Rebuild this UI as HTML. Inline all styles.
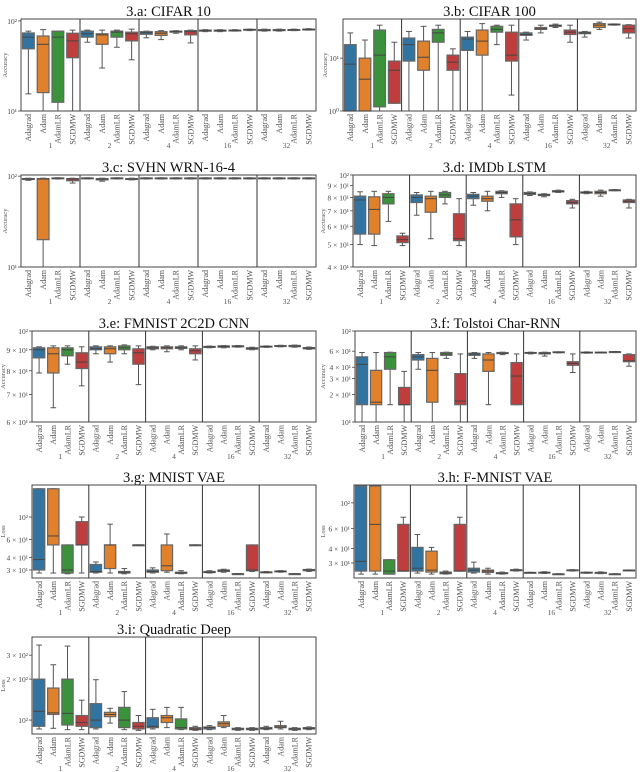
<!DOCTYPE html>
<html><head><meta charset="utf-8"><style>
html,body{margin:0;padding:0;background:#fff;}
svg{display:block;font-family:"Liberation Serif","DejaVu Serif",serif;}
</style></head><body>
<svg id="fig" width="640" height="772" viewBox="0 0 640 772" xmlns="http://www.w3.org/2000/svg"></svg>
<script>
const optimizers = ['Adagrad','Adam','AdamLR','SGDMW'];
const groups = ['1','2','4','16','32'];
const colors = ['#3274a1','#e1812c','#3a923a','#c03d3e'];

// five-number summaries [low, q1, median, q3, high], group-major, optimizer-minor
const boxesA = [[15.5,49,66,73.5,77],[10,16,55,68,80],[10,12.5,66,77,77],[10,39,60,73,79],
 [58,66,72,77,79],[30,55,70,72,79],[51,66,75,77,79],[37,60,72,75,81],
 [65,71,74,76,77],[62,69,73,76,78],[73,75,76,77,78],[57,70,76,78,79],
 [76,77,78,79,80],[76,77,78,79,80],[77,78,78.5,79,80],[78,79,80,80.5,81],
 [77,78,79,80,81],[77,78,79,80,81],[78,79,79.5,80,81],[79,80,80.5,81,82]];
const boxesB = [[1,1,7.7,18,30],[1,1,4,10,22],[1,1.2,11.4,34,42],[1.4,1.4,5.9,8.8,20],
 [1,8.8,18,24,32],[1,5.9,10.4,21,40],[1,20,30,35,42],[1,5.9,8.4,11.4,15],
 [1,14,23,25,32],[1,11.4,21,34,45],[18,31,35,40,42],[2,8.8,11.4,31,42],
 [22,27,28,30,31],[30,35,36,38,42],[38,40,41,42,44],[20,28,31,34,42],
 [25,29,30,31,32],[35,38,42,45,48],[42,43,43.5,44,44.5],[24,30,36,42,43]];
const boxesC = [[90,92,93,94,95],[10,20,93,94,95],[93,94,95,95.5,96],[84,89,93,94,95],
 [93,94,95,95.5,96],[88,91,93,94,95],[93,94,95,95.5,96],[91,92,93,94,95],
 [93,94,95,95.5,96],[93,94,95,95.5,96],[93,94,95,95.5,96],[93,94,95,95.5,96],
 [93,94,95,95.5,96],[93,94,95,95.5,96],[93,94,95,95.5,96],[93,94,95,95.5,96],
 [93,94,95,95.5,96],[93,94,95,95.5,96],[93,94,95,95.5,96],[93,94,95,95.5,96]];
const boxesD = [[50,55.5,78,81,84.6],[49.5,55.5,71,80.5,85],[63,75,80,83,85],[49.5,51,52.5,54.5,56],
 [67,76,80,82,84],[53,69,79,81,85],[75,80,82,84,85],[49.5,52,53,68,79],
 [74,79,81,82.5,84],[70,77,79,81,85],[80,83,84,85,85.5],[50,54,64,75,79],
 [81.5,82.5,83,84,84.5],[80.5,81.5,82,82.5,83],[84,84.5,85,85.5,86],[72,75,76,77.5,78.5],
 [83,83.5,84,84.5,85],[81,83,84,85,86],[85.5,85.7,86,86.2,86.5],[72,76,77,78,78.5]];
const boxesE = [[79,86,90,91,91.5],[65,79,88,91,92],[83,87,90,91,92],[73.5,81,84,88.5,91.5],
 [88,90,90.5,91.5,92],[84,88,90.5,91.5,92],[88,90,91,92,92.5],[74,83,88.5,90.5,92],
 [90,90.5,91,91.5,91.8],[89,90.5,91,91.5,92],[90,90.7,91,91.5,92],[85,88,89.5,90.5,92],
 [91,91.2,91.5,91.7,91.9],[91,91.3,91.6,92,92.2],[91.3,91.5,91.8,92,92.2],[90,90.3,90.7,91,91.3],
 [91.2,91.4,91.6,91.8,92],[91.5,91.7,91.9,92.1,92.3],[91.3,91.6,91.9,92.2,92.4],[90.2,90.5,90.8,91.1,91.4]];
const boxesF = [[10,15.5,43,52,58],[10,15.5,16.5,37,58],[15.5,38,52,58,58.5],[10,15.5,15.5,24,36],
 [38,48,52,55,58],[10,16.5,37,50,58],[50,54,56,58,58.5],[10,15.5,17,34,56],
 [50,54,56,57,58],[15.5,36,48,56,58],[55,56.5,57,58,58.5],[15.5,15.5,32,45,56],
 [56,57,57.5,58,58.5],[53,56,57,58,58.5],[57.5,58,58.5,59,59],[35,42,44,46,56],
 [57,57.5,58,58.5,59],[57.5,58,58.2,58.5,58.7],[58,58.5,59,59.2,59.5],[41,46,47,55,56]];
const boxesG = [[28,30,38,190,190],[28,53,65,190,190],[27.5,28,30,53,53],[28,53,53,90,100],
 [28,28.5,29,34,36],[28,31,53,53,85],[27.5,28,28.5,29,31],[53,53,53,53,53],
 [28,28.5,29,30,31.5],[28.5,29.5,33,53,68],[27.5,27.8,28,28.5,29.5],[53,53,53,53,53],
 [28,28.3,28.5,29,29.5],[28.5,29,29.5,30,30.5],[27.5,27.5,27.5,27.5,27.5],[29,29.5,30,53,53],
 [28,28.3,28.5,28.7,29],[28.5,28.8,29,29.3,29.6],[27.5,27.5,27.5,27.5,27.5],[29,29.5,30,30.3,30.6]];
const boxesH = [[24,25.5,31,140,140],[24,25.5,65,140,140],[24,24,25.5,32,32],[25.5,25.5,25.5,65,75],
 [24.5,25.5,27,41,53],[24,25,26,38,41],[24,24.2,24.5,25,25.5],[25.5,25.5,25.5,65,75],
 [24.5,25,26,27,30.5],[24,24.8,25.5,26,27],[24,24.2,24.4,24.7,25],[25.5,25.7,26,26.2,26.5],
 [24.5,24.6,24.7,24.8,24.9],[24.3,24.5,24.7,24.9,25.2],[23.8,23.9,24,24.1,24.2],[25.5,25.7,26,26.1,26.2],
 [24.4,24.5,24.7,24.9,25],[24.2,24.4,24.6,24.8,25.1],[23.8,23.9,24,24.1,24.2],[25.6,25.7,25.9,26,26.1]];
const boxesI = [[86,90,116,200,356],[87,110,113,172,255],[85,92,112,200,350],[85,90,96,108,140],
 [86,88,100,132,198],[95,106,110,114,122],[85,88,100,124,162],[84,86,90,96,108],
 [86,88,90,104,120],[88,96,104,108,124],[85,86,88,102,124],[84,85,86,88,90],
 [85,86,88,89,91],[88,90,94,97,108],[84,85,86,87,88],[84,85,86,87,88],
 [85,86,87,88,90],[86,88,89,91,98],[84,85,86,87,88],[85,86,87,88,89]];

const ticksA = [10,100], tickLabelsA = ['10¹','10²'];
const ticksB = [1,10], tickLabelsB = ['10⁰','10¹'];
const ticksC = [10,100], tickLabelsC = ['10¹','10²'];
const ticksD = [40,50,60,70,80,90,100], tickLabelsD = ['4 × 10¹','5 × 10¹','6 × 10¹','7 × 10¹','8 × 10¹','9 × 10¹','10²'];
const ticksE = [60,70,80,90,100], tickLabelsE = ['6 × 10¹','7 × 10¹','8 × 10¹','9 × 10¹','10²'];
const ticksF = [10,20,30,40,60,100], tickLabelsF = ['10¹','2 × 10¹','3 × 10¹','4 × 10¹','6 × 10¹','10²'];
const ticksG = [30,40,60,100], tickLabelsG = ['3 × 10¹','4 × 10¹','6 × 10¹','10²'];
const ticksH = [30,40,60,100], tickLabelsH = ['3 × 10¹','4 × 10¹','6 × 10¹','10²'];
const ticksI = [100,200,300], tickLabelsI = ['10²','2 × 10²','3 × 10²'];

const panels = [
 {id:'a',title:'3.a: CIFAR 10',x0:21,x1:316,y0:19,y1:111,dom:[10,105],ticks:ticksA,labels:tickLabelsA,yl:'Accuracy',data:boxesA,ylx:7},
 {id:'b',title:'3.b: CIFAR 100',x0:343,x1:636,y0:19,y1:111,dom:[1,55],ticks:ticksB,labels:tickLabelsB,yl:'Accuracy',data:boxesB,ylx:327},
 {id:'c',title:'3.c: SVHN WRN-16-4',x0:21,x1:316,y0:175,y1:267,dom:[10,103],ticks:ticksC,labels:tickLabelsC,yl:'Accuracy',data:boxesC,ylx:7},
 {id:'d',title:'3.d: IMDb LSTM',x0:353,x1:636,y0:175,y1:267,dom:[40,100],ticks:ticksD,labels:tickLabelsD,yl:'Accuracy',data:boxesD,ylx:325},
 {id:'e',title:'3.e: FMNIST 2C2D CNN',x0:32,x1:316,y0:331,y1:422,dom:[60,100],ticks:ticksE,labels:tickLabelsE,yl:'Accuracy',data:boxesE,ylx:5},
 {id:'f',title:'3.f: Tolstoi Char-RNN',x0:355,x1:636,y0:331,y1:422,dom:[10,100],ticks:ticksF,labels:tickLabelsF,yl:'Accuracy',data:boxesF,ylx:325},
 {id:'g',title:'3.g: MNIST VAE',x0:32,x1:316,y0:485,y1:578,dom:[25,207],ticks:ticksG,labels:tickLabelsG,yl:'Loss',data:boxesG,ylx:5},
 {id:'h',title:'3.h: F-MNIST VAE',x0:354,x1:636,y0:485,y1:578,dom:[22.2,143],ticks:ticksH,labels:tickLabelsH,yl:'Loss',data:boxesH,ylx:325},
 {id:'i',title:'3.i: Quadratic Deep',x0:32,x1:316,y0:637,y1:734,dom:[79,408],ticks:ticksI,labels:tickLabelsI,yl:'Loss',data:boxesI,ylx:5}
];

const NS='http://www.w3.org/2000/svg';
const svg=document.getElementById('fig');
function mk(tag,attrs,parent,txt){const e=document.createElementNS(NS,tag);for(const k in attrs)e.setAttribute(k,attrs[k]);if(txt!==undefined)e.textContent=txt;(parent||svg).appendChild(e);return e;}

panels.forEach(p=>{
  const g=mk('g',{});
  
  
  const ly0=Math.log10(p.dom[0]), ly1=Math.log10(p.dom[1]);
  const yS=v=>p.y1-(Math.log10(v)-ly0)/(ly1-ly0)*(p.y1-p.y0);
  const gw=(p.x1-p.x0)/groups.length, sw=gw/optimizers.length, bw=sw*0.8;
  const xS=(gi,oi)=>p.x0+gi*gw+(oi+0.5)*sw;
  const t=mk('text',{x:(p.x0+p.x1)/2,y:p.y0-3,'text-anchor':'middle','font-size':'14.5',fill:'#111'},g,p.title);
  
  
  p.ticks.forEach((tv,i)=>{
    const y=yS(tv);
    mk('line',{x1:p.x0-3,x2:p.x0,y1:y,y2:y,stroke:'#444','stroke-width':0.8},g);
    const tl=mk('text',{x:p.x0-4,y:y+3,'text-anchor':'end','font-size':'7.5',fill:'#444'},g,p.labels[i]);
    
    
  });
  const yl=mk('text',{x:0,y:0,'text-anchor':'middle','font-size':'6.5',fill:'#555',transform:`translate(${p.ylx},${(p.y0+p.y1)/2}) rotate(-90)`},g,p.yl);
  
  
  p.data.forEach((b,k)=>{
    const gi=Math.floor(k/optimizers.length), oi=k%optimizers.length;
    const cx=xS(gi,oi);
    const bg=mk('g',{},g);
    
    
    const [lo,q1,md,q3,hi]=b.map(yS);
    mk('line',{x1:cx,x2:cx,y1:hi,y2:q3,stroke:'#555','stroke-width':1},bg);
    mk('line',{x1:cx,x2:cx,y1:q1,y2:lo,stroke:'#555','stroke-width':1},bg);
    mk('line',{x1:cx-bw/4,x2:cx+bw/4,y1:hi,y2:hi,stroke:'#555','stroke-width':1},bg);
    mk('line',{x1:cx-bw/4,x2:cx+bw/4,y1:lo,y2:lo,stroke:'#555','stroke-width':1},bg);
    mk('rect',{x:cx-bw/2,y:q3,width:bw,height:Math.max(q1-q3,0.8),fill:colors[oi],stroke:'#666','stroke-width':1.2},bg);
    mk('line',{x1:cx-bw/2,x2:cx+bw/2,y1:md,y2:md,stroke:'#444','stroke-width':1},bg);
  });
  const fr=mk('rect',{x:p.x0,y:p.y0,width:p.x1-p.x0,height:p.y1-p.y0,fill:'none',stroke:'#444','stroke-width':1},g);
  
  
  for(let gi=1;gi<groups.length;gi++){
    const x=p.x0+gi*gw;
    mk('line',{x1:x,x2:x,y1:p.y0,y2:p.y1,stroke:'#333','stroke-width':1},g);
  }
  groups.forEach((gn,gi)=>{
    optimizers.forEach((on,oi)=>{
      const cx=xS(gi,oi);
      const xl=mk('text',{'text-anchor':'end','font-size':'8',fill:'#555',transform:`translate(${cx+2.8},${p.y1+3}) rotate(-90)`},g,on);
      
      
    });
    const gl=mk('text',{x:p.x0+(gi+0.5)*gw,y:p.y1+37,'text-anchor':'middle','font-size':'7.5',fill:'#555'},g,gn);
    
    
  });
});
</script>
</body></html>
